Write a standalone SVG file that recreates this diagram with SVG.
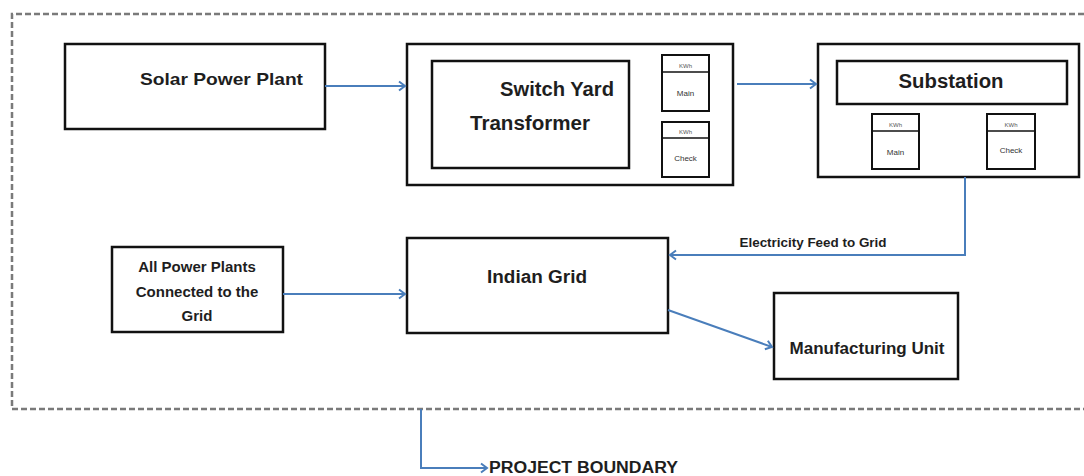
<svg xmlns="http://www.w3.org/2000/svg" width="1084" height="476" viewBox="0 0 1084 476">
<defs>
<style>
.box{fill:#fff;stroke:#111;stroke-width:2.5}
.meter{fill:#fff;stroke:#111;stroke-width:2}
.conn{fill:none;stroke:#4a7ebb;stroke-width:2}
.t{font-family:"Liberation Sans",Arial,sans-serif;font-weight:bold;fill:#1e1e1e}
.s{font-family:"Liberation Sans",Arial,sans-serif;fill:#333;font-size:8px;text-anchor:middle}
.k{font-family:"Liberation Sans",Arial,sans-serif;fill:#555;font-size:6px;text-anchor:middle}
</style>
<marker id="arr" markerWidth="12" markerHeight="12" refX="9" refY="6" orient="auto" markerUnits="userSpaceOnUse">
<polyline points="3,1.5 9,6 3,10.5" fill="none" stroke="#4a7ebb" stroke-width="2"/>
</marker>
</defs>
<rect width="1084" height="476" fill="#fff"/>
<path d="M1084,14 H12 V409 H1084" fill="none" stroke="#7a7a7a" stroke-width="2.5" stroke-dasharray="6,3"/>
<g id="solar">
<rect class="box" x="65" y="44" width="260" height="85"/>
<text class="t" x="140" y="85" font-size="17" textLength="163" lengthAdjust="spacingAndGlyphs">Solar Power Plant</text>
</g>
<g id="switchyard">
<rect class="box" x="407" y="44" width="326" height="141"/>
<rect class="box" x="432" y="61" width="197" height="107"/>
<text class="t" x="500" y="96" font-size="20" textLength="114" lengthAdjust="spacingAndGlyphs">Switch Yard</text>
<text class="t" x="470" y="130" font-size="20" textLength="120" lengthAdjust="spacingAndGlyphs">Transformer</text>
<g id="sy-main">
<rect class="meter" x="662" y="55" width="47" height="56"/>
<line x1="662" y1="72" x2="709" y2="72" stroke="#111" stroke-width="1.5"/>
<text class="k" x="685.5" y="68">KWh</text>
<text class="s" x="685.5" y="96">Main</text>
</g>
<g id="sy-check">
<rect class="meter" x="662" y="122" width="47" height="55"/>
<line x1="662" y1="138" x2="709" y2="138" stroke="#111" stroke-width="1.5"/>
<text class="k" x="685.5" y="134">KWh</text>
<text class="s" x="685.5" y="161">Check</text>
</g>
</g>
<g id="substation">
<rect class="box" x="818" y="44" width="261" height="133"/>
<rect class="box" x="837" y="61" width="230" height="43"/>
<text class="t" x="951" y="88" font-size="20" text-anchor="middle" textLength="105" lengthAdjust="spacingAndGlyphs">Substation</text>
<g id="ss-main">
<rect class="meter" x="872" y="114" width="47" height="55"/>
<line x1="872" y1="131" x2="919" y2="131" stroke="#111" stroke-width="1.5"/>
<text class="k" x="895.5" y="127">KWh</text>
<text class="s" x="895.5" y="155">Main</text>
</g>
<g id="ss-check">
<rect class="meter" x="987" y="114" width="48" height="55"/>
<line x1="987" y1="131" x2="1035" y2="131" stroke="#111" stroke-width="1.5"/>
<text class="k" x="1011" y="127">KWh</text>
<text class="s" x="1011" y="153">Check</text>
</g>
</g>
<g id="allplants">
<rect class="box" x="112" y="247" width="171" height="85"/>
<text class="t" x="197" y="272" font-size="15" text-anchor="middle">All Power Plants</text>
<text class="t" x="197" y="297" font-size="15" text-anchor="middle">Connected to the</text>
<text class="t" x="197" y="321" font-size="15" text-anchor="middle">Grid</text>
</g>
<g id="indiangrid">
<rect class="box" x="407" y="238" width="261" height="95"/>
<text class="t" x="537" y="283" font-size="18" text-anchor="middle" textLength="100" lengthAdjust="spacingAndGlyphs">Indian Grid</text>
</g>
<g id="manufacturing">
<rect class="box" x="774" y="293" width="184" height="86"/>
<text class="t" x="867" y="354" font-size="16" text-anchor="middle" textLength="155" lengthAdjust="spacingAndGlyphs">Manufacturing  Unit</text>
</g>
<g id="connectors">
<line class="conn" x1="325" y1="86" x2="405" y2="86" marker-end="url(#arr)"/>
<line class="conn" x1="737" y1="84" x2="816" y2="84" marker-end="url(#arr)"/>
<polyline class="conn" points="965,177 965,255 670,255" marker-end="url(#arr)"/>
<line class="conn" x1="283" y1="294" x2="405" y2="294" marker-end="url(#arr)"/>
<line class="conn" x1="668" y1="310" x2="772" y2="347" marker-end="url(#arr)"/>
<polyline class="conn" points="421,409 421,468 487,468" marker-end="url(#arr)"/>
</g>
<text class="t" x="813" y="247" font-size="12" text-anchor="middle" textLength="147" lengthAdjust="spacingAndGlyphs">Electricity Feed to Grid</text>
<text class="t" x="489" y="473" font-size="16" textLength="189" lengthAdjust="spacingAndGlyphs">PROJECT BOUNDARY</text>
</svg>
